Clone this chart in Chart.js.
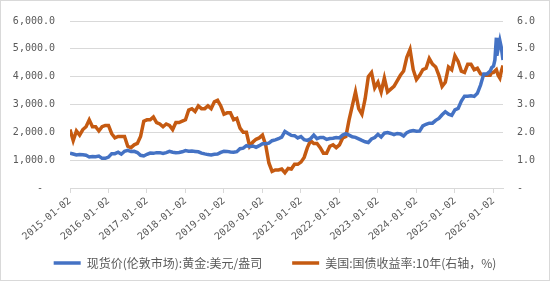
<!DOCTYPE html>
<html>
<head>
<meta charset="utf-8">
<script src="https://cdn.jsdelivr.net/npm/chart.js@4.4.1/dist/chart.umd.min.js"></script>
<style>
  html, body { margin: 0; padding: 0; background: #fff; }
  #wrap { width: 550px; height: 281px; }
</style>
</head>
<body>
<div id="wrap"><canvas id="chart" width="550" height="281"></canvas></div>
<script>
// monthly readings, one per month from 2015-01 to 2025-11 (month start)
const startYear = 2015;

// gold spot, London, USD/oz (left axis)
const goldMonthly = [
  1250, 1220, 1185, 1200, 1195, 1175, 1115, 1135, 1120, 1145, 1065, 1065, // 2015
  1110, 1235, 1235, 1285, 1215, 1320, 1350, 1310, 1320, 1275, 1175, 1150, // 2016
  1210, 1255, 1245, 1270, 1270, 1240, 1270, 1315, 1285, 1270, 1275, 1300, // 2017
  1345, 1320, 1325, 1315, 1300, 1255, 1225, 1200, 1190, 1215, 1220, 1280, // 2018
  1320, 1315, 1295, 1285, 1305, 1410, 1430, 1520, 1485, 1510, 1465, 1520, // 2019
  1590, 1590, 1610, 1700, 1730, 1770, 1830, 2030, 1960, 1890, 1880, 1800, // 2020
  1850, 1735, 1710, 1770, 1900, 1770, 1815, 1815, 1745, 1780, 1785, 1815, // 2021
  1800, 1900, 1950, 1900, 1840, 1820, 1765, 1710, 1660, 1635, 1760, 1815, // 2022
  1930, 1830, 1970, 1990, 1960, 1920, 1960, 1940, 1870, 1990, 2040, 2065, // 2023
  2040, 2045, 2230, 2290, 2330, 2330, 2430, 2500, 2630, 2740, 2650, 2610, // 2024
  2810, 2860, 3120, 3300, 3300, 3310, 3290, 3400, 3700, 4100, 4100        // 2025
];

// US treasury 10y yield, % (right axis)
const yieldMonthly = [
  2.10, 1.70, 2.05, 1.90, 2.10, 2.20, 2.45, 2.20, 2.20, 2.05, 2.20, 2.25, // 2015
  2.25, 1.95, 1.80, 1.85, 1.85, 1.85, 1.50, 1.45, 1.55, 1.60, 1.85, 2.40, // 2016
  2.45, 2.45, 2.55, 2.35, 2.30, 2.20, 2.30, 2.25, 2.10, 2.35, 2.35, 2.40, // 2017
  2.45, 2.80, 2.85, 2.75, 2.95, 2.85, 2.85, 2.95, 2.85, 3.10, 3.15, 2.95, // 2018
  2.65, 2.70, 2.70, 2.45, 2.50, 2.15, 2.00, 2.00, 1.50, 1.65, 1.75, 1.80, // 2019
  1.90, 1.55, 0.90, 0.60, 0.65, 0.65, 0.68, 0.55, 0.70, 0.68, 0.85, 0.85, // 2020
  0.93, 1.10, 1.45, 1.70, 1.60, 1.60, 1.45, 1.25, 1.25, 1.50, 1.55, 1.45, // 2021
  1.55, 1.80, 1.85, 2.45, 2.95, 3.45, 2.85, 2.65, 3.20, 4.00, 4.15, 3.60, // 2022
  3.80, 3.45, 3.95, 3.45, 3.55, 3.65, 3.85, 4.05, 4.20, 4.70, 4.98, 4.25, // 2023
  3.90, 4.05, 4.25, 4.30, 4.65, 4.45, 4.35, 4.05, 3.65, 3.80, 4.35, 4.25, // 2024
  4.75, 4.55, 4.20, 4.15, 4.45, 4.45, 4.25, 4.30, 4.10, 4.05, 4.05        // 2025
];

// last stretch read at finer spacing
const tailDates = ["2025-12-01", "2025-12-15", "2026-01-02", "2026-01-15", "2026-01-29",
                   "2026-02-03", "2026-02-15", "2026-03-01", "2026-03-15", "2026-03-31"];
const goldTail  = [4200, 4330, 4380, 4600, 5400, 4750, 5000, 5300, 5050, 4600];
const yieldTail = [4.05, 4.15, 4.15, 4.20, 4.25, 4.25, 4.05, 3.95, 4.20, 4.40];

const leftTicks  = [0, 1000, 2000, 3000, 4000, 5000, 6000];
const rightTicks = [0, 1, 2, 3, 4, 5, 6];

const goldLabel  = "现货价(伦敦市场):黄金:美元/盎司";
const yieldLabel = "美国:国债收益率:10年(右轴，%)";

// date string -> fractional year for the linear x axis
function toYear(s) {
  const [y, m, d] = s.split("-").map(Number);
  return y + (m - 1) / 12 + (d - 1) / 365;
}

const monthDates = goldMonthly.map((_, i) => {
  const y = startYear + Math.floor(i / 12);
  const m = (i % 12) + 1;
  return `${y}-${String(m).padStart(2, "0")}-01`;
});
const dates = monthDates.concat(tailDates).map(toYear);
const goldAll = goldMonthly.concat(goldTail);
const yieldAll = yieldMonthly.concat(yieldTail);

const goldPts  = dates.map((x, i) => ({ x, y: goldAll[i] }));
const yieldPts = dates.map((x, i) => ({ x, y: yieldAll[i] }));

const BLUE = "#4472C4";
const ORANGE = "#C55A11";
const TXT = "#595959";
const GRID = "#D9D9D9";
const numFont = { family: "'DejaVu Sans Mono', monospace", size: 10 };

// thin frame around the whole chart
const frame = {
  id: "frame",
  afterDraw(chart) {
    const c = chart.ctx;
    c.save();
    c.strokeStyle = GRID;
    c.lineWidth = 1;
    c.strokeRect(0.5, 0.5, chart.width - 1, chart.height - 1);
    c.restore();
  },
};

new Chart(document.getElementById("chart"), {
  type: "line",
  data: {
    datasets: [
      {
        label: goldLabel,
        data: goldPts,
        yAxisID: "yL",
        borderColor: BLUE,
        backgroundColor: BLUE,
        borderWidth: 3.5,
        pointRadius: 0,
        tension: 0,
      },
      {
        label: yieldLabel,
        data: yieldPts,
        yAxisID: "yR",
        borderColor: ORANGE,
        backgroundColor: ORANGE,
        borderWidth: 3.5,
        pointRadius: 0,
        tension: 0,
      },
    ],
  },
  options: {
    responsive: false,
    animation: false,
    layout: { padding: { top: 14, left: 0, right: 0, bottom: 2 } },
    plugins: {
      tooltip: { enabled: false },
      legend: {
        position: "bottom",
        labels: {
          color: TXT,
          font: { family: "'Noto Sans CJK SC', sans-serif", size: 12 },
          usePointStyle: true,
          pointStyle: "line",
          pointStyleWidth: 27,
          padding: 30,
        },
      },
    },
    scales: {
      x: {
        type: "linear",
        min: dates[0],
        max: dates[dates.length - 1],
        afterFit(scale) {
          // short axis box so the legend sits close; let the slanted labels run past it
          scale.height = 39;
          scale._computeLabelArea = () => undefined;
        },
        ticks: {
          stepSize: 1,
          includeBounds: false,
          autoSkip: false,
          minRotation: 40,
          maxRotation: 40,
          padding: 2,
          color: TXT,
          font: numFont,
          callback: (v) => (Number.isInteger(v) ? `${v}-01-02` : null),
        },
        grid: {
          drawOnChartArea: false,
          drawTicks: true,
          tickLength: 5,
          color: GRID,
        },
        border: { display: true, color: GRID },
      },
      yL: {
        position: "left",
        min: leftTicks[0],
        max: leftTicks[leftTicks.length - 1],
        afterFit(scale) { scale.width = 70; },
        afterBuildTicks(scale) { scale.ticks = leftTicks.map((value) => ({ value })); },
        ticks: {
          padding: 15,
          color: TXT,
          font: numFont,
          callback: (v) =>
            v === 0 ? "-  " : v.toLocaleString("en-US", { minimumFractionDigits: 1 }),
        },
        grid: { color: GRID, drawTicks: false },
        border: { display: false },
      },
      yR: {
        position: "right",
        min: rightTicks[0],
        max: rightTicks[rightTicks.length - 1],
        afterFit(scale) { scale.width = 47; },
        afterBuildTicks(scale) { scale.ticks = rightTicks.map((value) => ({ value })); },
        ticks: {
          padding: 14,
          color: TXT,
          font: numFont,
          callback: (v) => (v === 0 ? "-" : v.toFixed(1)),
        },
        grid: { drawOnChartArea: false, drawTicks: false },
        border: { display: false },
      },
    },
  },
  plugins: [frame],
});
</script>
</body>
</html>
